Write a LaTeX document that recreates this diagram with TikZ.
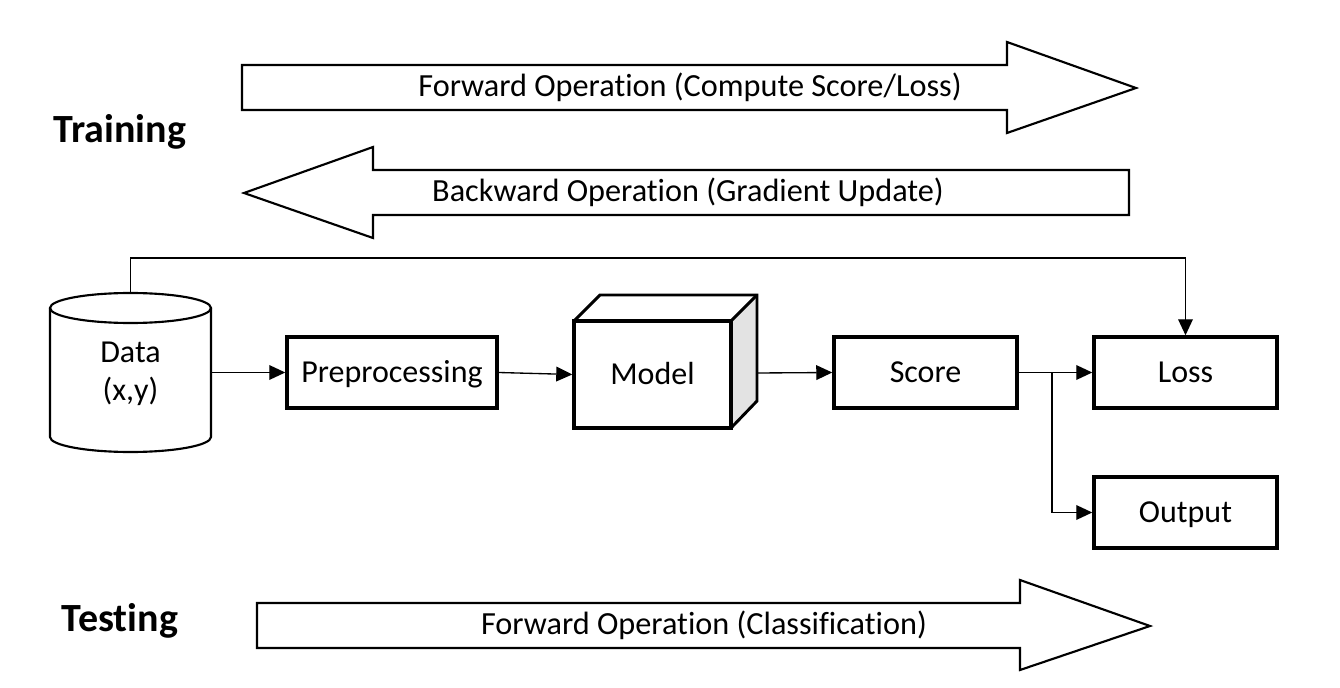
\documentclass[tikz,border=0pt]{standalone}
\usepackage{fontspec}
\setmainfont{Carlito}[Ligatures={NoCommon}]
\usetikzlibrary{arrows.meta,calc}
\tikzset{
  boxnode/.style={draw, line width=2.6pt, minimum width=#1, minimum height=53.25pt, inner sep=0pt, text height=15.5pt, text depth=0pt, font=\fontsize{24}{27}\selectfont},
  boxnode/.default=137.25pt,
  bigarrow/.style={draw, line width=1.6pt, line join=miter, fill=white},
  conn/.style={line width=1pt, -{Triangle[length=12pt,width=11pt]}},
  arrowtext/.style={font=\fontsize{24.2}{27}\selectfont, inner sep=0pt, text height=15.6pt, text depth=0pt},
  titletext/.style={font=\fontsize{30}{33}\selectfont\bfseries, inner sep=0pt, text height=19.3pt, text depth=0pt}
}
\begin{document}
\begin{tikzpicture}[x=0.75pt,y=-0.75pt]
\useasboundingbox (0,0) rectangle (1340,688);
% big arrows
\draw[bigarrow] (242,65) -- (1007,65) -- (1007,42) -- (1136,88) -- (1007,133) -- (1007,110) -- (242,110) -- cycle;
\node[arrowtext] (fwd) at (690,86) {Forward Operation (Compute Score/Loss)};
\draw[bigarrow] (1129,170) -- (373,170) -- (373,147) -- (244,193) -- (373,238) -- (373,215) -- (1129,215) -- cycle;
\node[arrowtext] (bwd) at (688,191) {Backward Operation (Gradient Update)};
\draw[bigarrow] (257,603) -- (1020,603) -- (1020,580) -- (1150,626) -- (1020,670) -- (1020,648) -- (257,648) -- cycle;
\node[arrowtext] (test) at (704,624) {Forward Operation (Classification)};
\node[titletext] (training) at (120,130) {Training};
\node[titletext] (testing) at (120,619) {Testing};
% data cylinder
\draw[line width=1.6pt] (50,308) -- (50,437) arc[start angle=180,end angle=0,x radius=80.5,y radius=15] -- (211,308);
\draw[line width=1.6pt] (130.5,308) ellipse[x radius=80.5,y radius=15];
\node[inner sep=0pt, minimum width=120.75pt, minimum height=119.25pt, align=center, font=\fontsize{24}{28.5}\selectfont] (data) at (130.5,374) {Data\\(x,y)};
\coordinate (datatop) at (130.5,293);
% boxes
\node[boxnode=157.5pt] (pre) at (392,372.5) {Preprocessing};
% model cube
\fill[gray!22] (731,321) -- (757,295) -- (757,401) -- (731,428) -- cycle;
\draw[line width=2.2pt, line join=miter] (574,321) -- (600,295) -- (757,295) -- (757,401) -- (731,428);
\draw[line width=2.2pt] (731,321) -- (757,295);
\node[draw, line width=2.6pt, minimum width=117.75pt, minimum height=80.25pt, inner sep=0pt, text height=15.5pt, text depth=0pt, font=\fontsize{24}{27}\selectfont] (model) at (652.5,374.5) {Model};
\coordinate (modelside) at (757,373);
\node[boxnode] (score) at (925.5,372.5) {Score};
\node[boxnode] (loss) at (1185.5,372.5) {Loss};
\node[boxnode] (output) at (1185.5,512.5) {Output};
\coordinate (branch) at (1052,372.5);
\coordinate (topline) at (1185.5,258);
% connectors
\draw[conn] (data.east |- pre.west) -- (pre.west);
\draw[conn] (pre.east) -- (model.west);
\draw[conn] (modelside) -- (score.west);
\draw[conn] (score.east) -- (loss.west);
\draw[conn] (branch) |- (output.west);
\draw[conn] (datatop) |- (topline) -- (loss.north);
\end{tikzpicture}
\end{document}
